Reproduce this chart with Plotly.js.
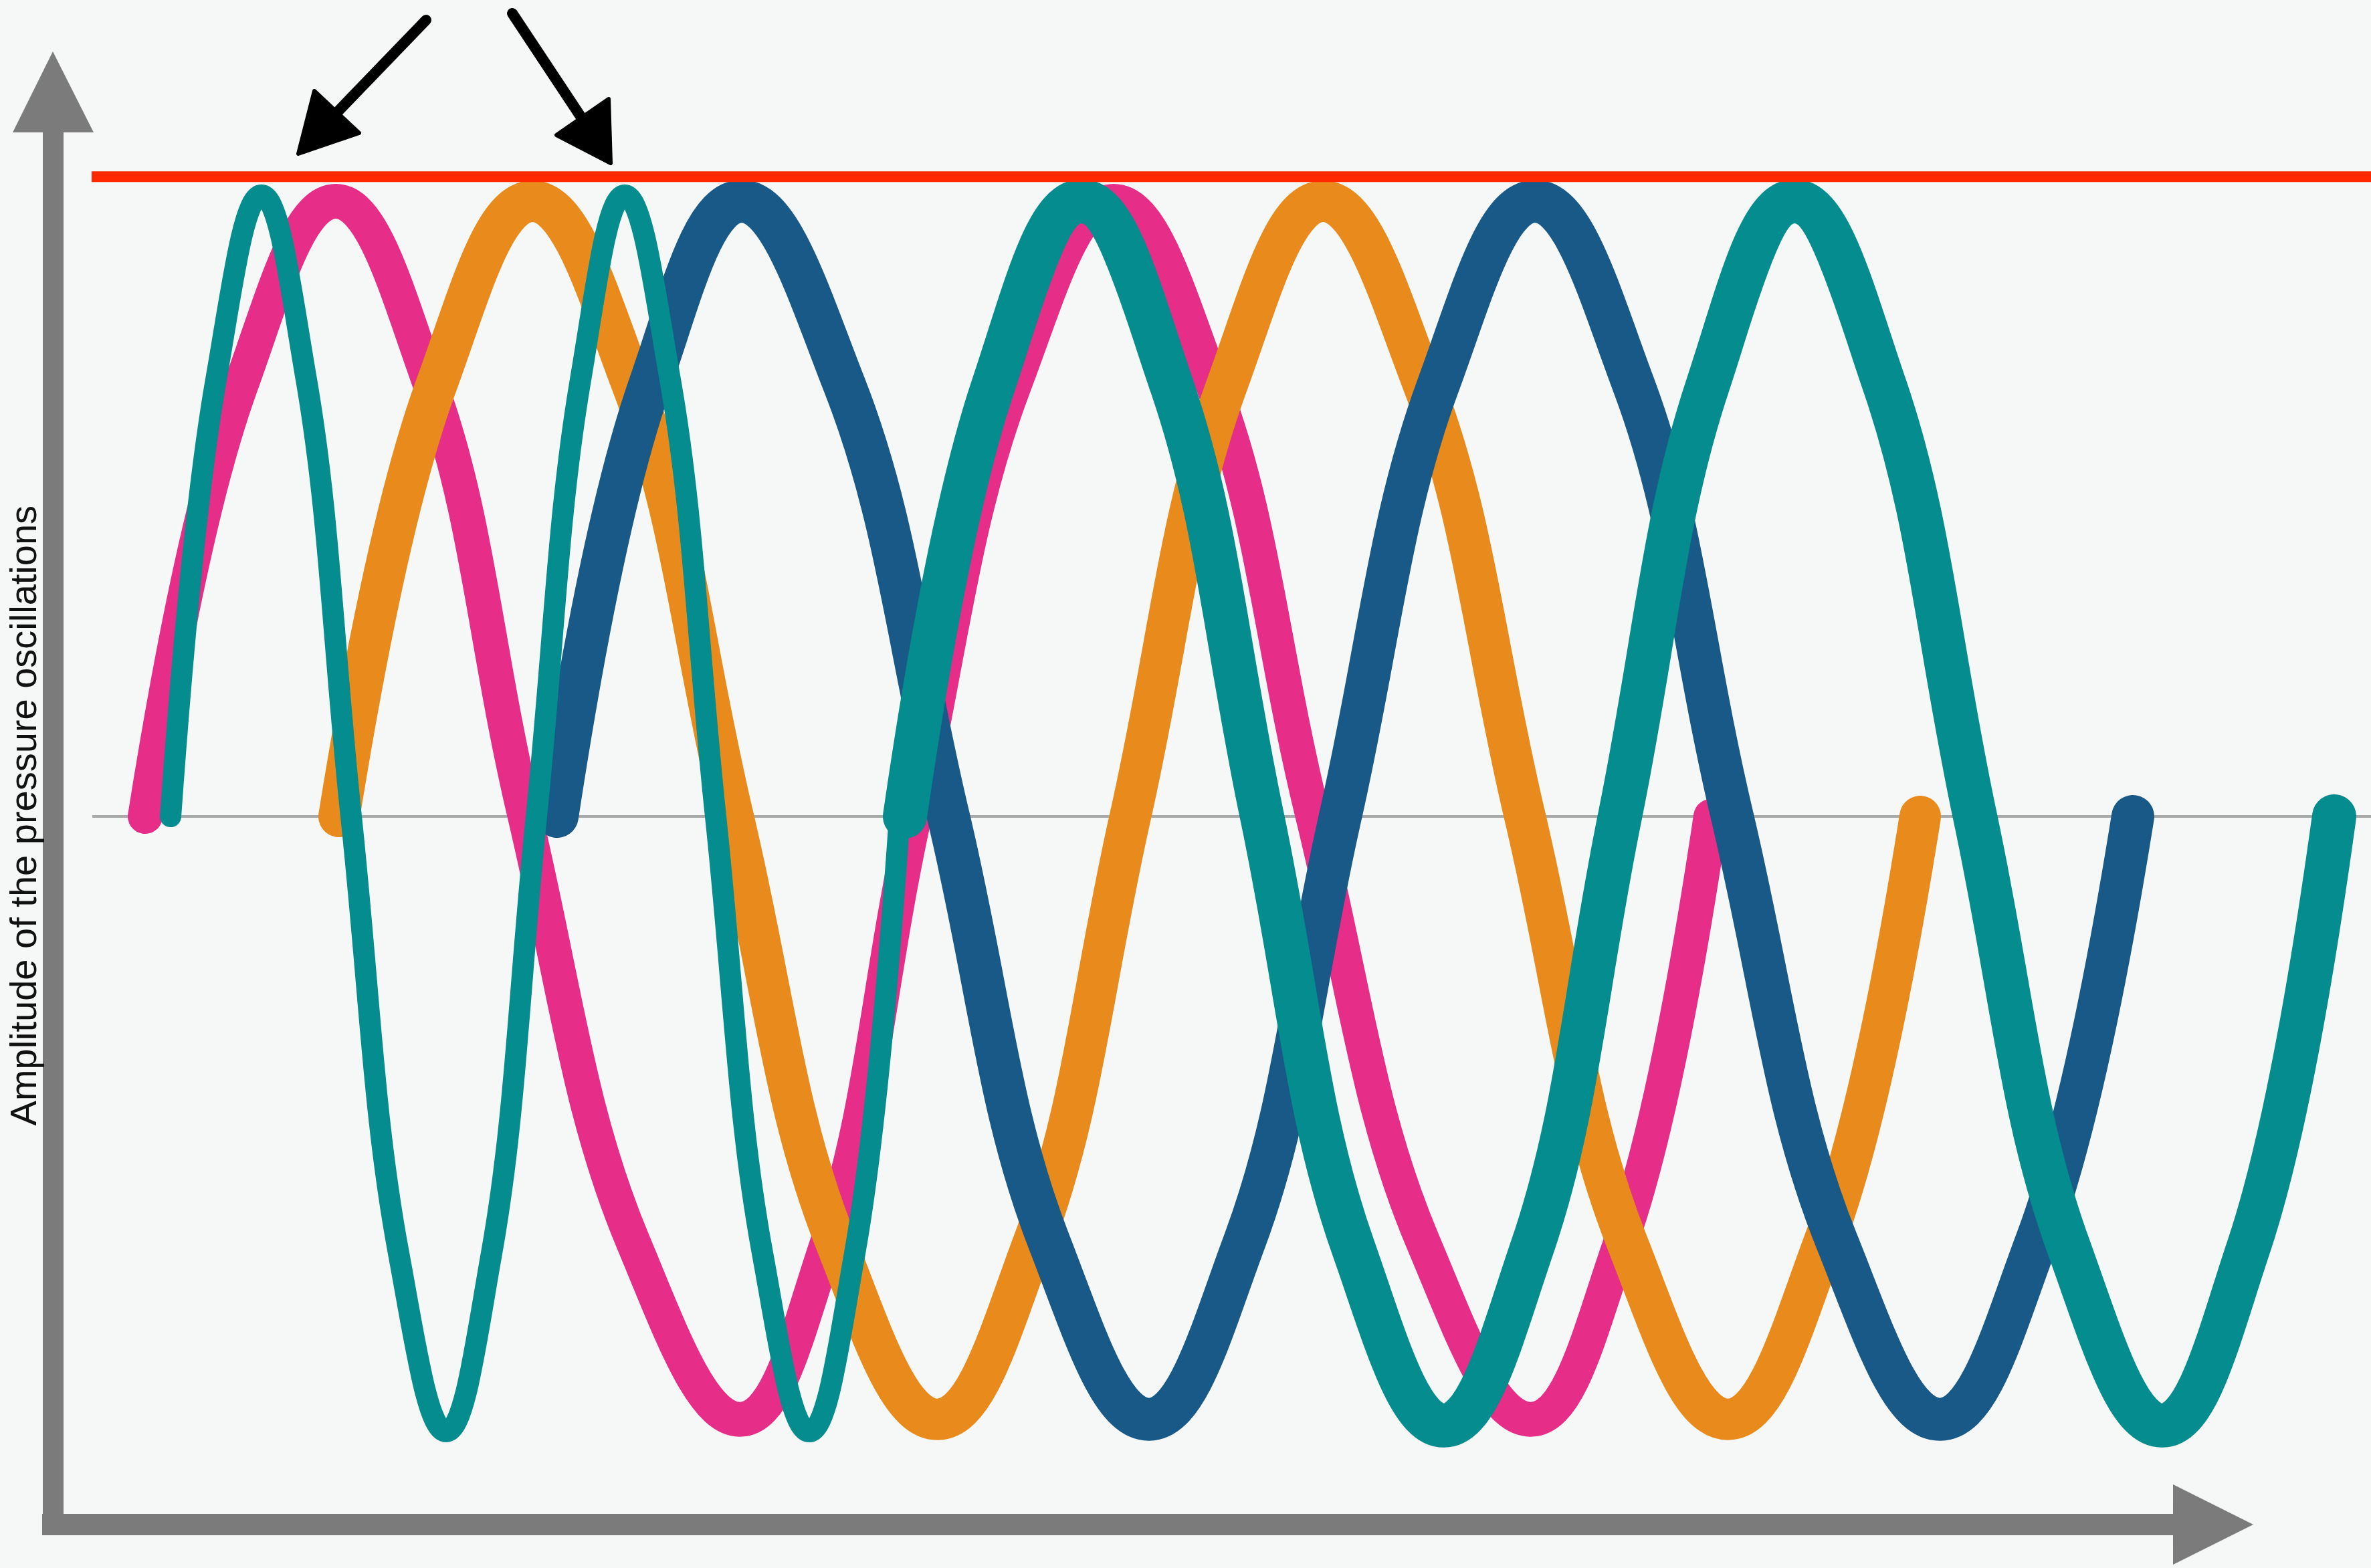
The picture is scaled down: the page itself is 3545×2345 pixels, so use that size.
<!DOCTYPE html>
<html>
<head>
<meta charset="utf-8">
<script src="https://cdn.plot.ly/plotly-3.0.1.min.js"></script>
<style>
  html, body { margin: 0; padding: 0; background: #F6F8F7; }
  #chart { width: 3545px; height: 2345px; }
  .js-line { stroke-linecap: round !important; stroke-linejoin: round !important; }
</style>
</head>
<body>
<div id="chart"></div>
<script>
// ---- Data (x in hundreds of pixels along the time axis, y = normalised amplitude) ----
const seriesNames = ["Pink wave", "Orange wave", "Blue wave", "Fast teal wave", "Teal wave"];
const seriesColors = ["#E62D87", "#E88B1C", "#185987", "#058C8E", "#058C8E"];

const xPink = [2.17, 3.60, 5.02, 6.44, 7.85, 9.46, 11.08, 12.38, 13.67, 15.16, 16.65, 18.14, 19.63, 21.27, 22.90, 24.24, 25.58];
const yPink = [0, 0.70, 1.00, 0.70, 0, -0.69, -0.98, -0.69, 0, 0.70, 1.00, 0.70, 0, -0.69, -0.98, -0.69, 0];

const xOrange = [5.07, 6.52, 7.96, 9.46, 10.96, 12.49, 14.02, 15.46, 16.90, 18.34, 19.78, 21.29, 22.80, 24.32, 25.84, 27.28, 28.71];
const yOrange = [0, 0.70, 1.00, 0.70, 0, -0.69, -0.98, -0.69, 0, 0.70, 1.00, 0.70, 0, -0.69, -0.98, -0.69, 0];

const xBlue = [8.33, 9.71, 11.08, 12.63, 14.18, 15.68, 17.18, 18.61, 20.04, 21.50, 22.95, 24.43, 25.90, 27.46, 29.01, 30.45, 31.89];
const yBlue = [0, 0.70, 1.00, 0.70, 0, -0.69, -0.98, -0.69, 0, 0.70, 1.00, 0.70, 0, -0.69, -0.98, -0.69, 0];

const xTealFast = [2.55, 3.23, 3.91, 4.58, 5.25, 5.96, 6.67, 7.35, 8.02, 8.68, 9.34, 10.02, 10.70, 11.40, 12.10, 12.78, 13.45];
const yTealFast = [0, 0.71, 1.01, 0.71, 0, -0.71, -1.00, -0.71, 0, 0.71, 1.01, 0.71, 0, -0.71, -1.00, -0.71, 0];

const xTeal = [13.53, 14.85, 16.17, 17.52, 18.87, 20.23, 21.59, 22.91, 24.22, 25.53, 26.83, 28.18, 29.53, 30.93, 32.33, 33.62, 34.90];
const yTeal = [0, 0.70, 1.00, 0.70, 0, -0.70, -0.99, -0.70, 0, 0.70, 1.00, 0.70, 0, -0.70, -0.99, -0.70, 0];

const maxLevel = 1.04;      // red reference line
const baseLevel = 0;        // grey rest line
const yAxisTitle = "Amplitude of the pressure oscillations";

// ---- Canvas geometry ----
const W = 3545, H = 2345;
const px = v => v / W;            // pixel -> paper x
const py = v => 1 - v / H;        // pixel -> paper y
function path(points, close) {
  return points.map((p, i) => (i ? "L" : "M") + px(p[0]).toFixed(5) + "," + py(p[1]).toFixed(5)).join(" ") + (close ? " Z" : "");
}

const xs = [xPink, xOrange, xBlue, xTealFast, xTeal];
const ys = [yPink, yOrange, yBlue, yTealFast, yTeal];
const widths = [52, 62, 64, 32, 66];

const traces = xs.map((x, i) => ({
  type: "scatter",
  mode: "lines",
  name: seriesNames[i],
  x: x,
  y: ys[i],
  line: { color: seriesColors[i], width: widths[i], shape: "spline", smoothing: 1.2, simplify: false },
  hoverinfo: "skip"
}));

const axisGrey = "#7B7B7B";
const shapes = [
  // grey rest line
  { type: "line", xref: "paper", yref: "y", x0: px(138), x1: 1, y0: baseLevel, y1: baseLevel,
    line: { color: "#A9A9A9", width: 4 }, layer: "below" },
  // red maximum line
  { type: "line", xref: "paper", yref: "y", x0: px(137), x1: 1, y0: maxLevel, y1: maxLevel,
    line: { color: "#FF2800", width: 16 }, layer: "above" },
  // vertical axis arrow
  { type: "rect", xref: "paper", yref: "paper", x0: px(64), x1: px(95), y0: py(2296), y1: py(196),
    fillcolor: axisGrey, line: { width: 0 }, layer: "above" },
  { type: "path", xref: "paper", yref: "paper", path: path([[19, 198], [79, 77], [140, 198]], true),
    fillcolor: axisGrey, line: { width: 0 }, layer: "above" },
  // horizontal axis arrow
  { type: "rect", xref: "paper", yref: "paper", x0: px(63), x1: px(3251), y0: py(2296), y1: py(2264),
    fillcolor: axisGrey, line: { width: 0 }, layer: "above" },
  { type: "path", xref: "paper", yref: "paper", path: path([[3249, 2220], [3369, 2280], [3249, 2340]], true),
    fillcolor: axisGrey, line: { width: 0 }, layer: "above" },
  // black pointer arrows (shaft + head)
  { type: "path", xref: "paper", yref: "paper", path: path([[637, 30], [505, 167]], false),
    line: { color: "#000000", width: 16 }, layer: "above" },
  { type: "path", xref: "paper", yref: "paper", path: path([[470, 136], [537, 199], [446, 230]], true),
    fillcolor: "#000000", line: { color: "#000000", width: 6 }, layer: "above" },
  { type: "path", xref: "paper", yref: "paper", path: path([[766, 20], [872, 180]], false),
    line: { color: "#000000", width: 16 }, layer: "above" },
  { type: "path", xref: "paper", yref: "paper", path: path([[910, 148], [832, 202], [913, 244]], true),
    fillcolor: "#000000", line: { color: "#000000", width: 6 }, layer: "above" }
];

const annotations = [
  { xref: "paper", yref: "paper", x: 0, y: py(1220), xanchor: "left", yanchor: "middle",
    text: yAxisTitle, textangle: -90, showarrow: false,
    font: { family: "Liberation Sans, Arial, sans-serif", size: 56, color: "#111111" } }
];

const layout = {
  width: W, height: H,
  margin: { l: 0, r: 0, t: 0, b: 0, pad: 0 },
  paper_bgcolor: "#F6F8F7",
  plot_bgcolor: "#F6F8F7",
  showlegend: false,
  xaxis: { range: [0, 35.45], showgrid: false, zeroline: false, showticklabels: false, ticks: "", showline: false, fixedrange: true },
  yaxis: { range: [-1.2217, 1.3272], showgrid: false, zeroline: false, showticklabels: false, ticks: "", showline: false, fixedrange: true },
  shapes: shapes,
  annotations: annotations
};

Plotly.newPlot("chart", traces, layout, { staticPlot: true, displayModeBar: false }).then(() => {
  document.querySelectorAll(".shapelayer path").forEach(p => {
    const s = (p.style.stroke || "").replace(/\s/g, "");
    if (s === "rgb(0,0,0)" || s === "#000000") {
      p.style.strokeLinecap = "round";
      p.style.strokeLinejoin = "round";
    }
  });
});
</script>
</body>
</html>
